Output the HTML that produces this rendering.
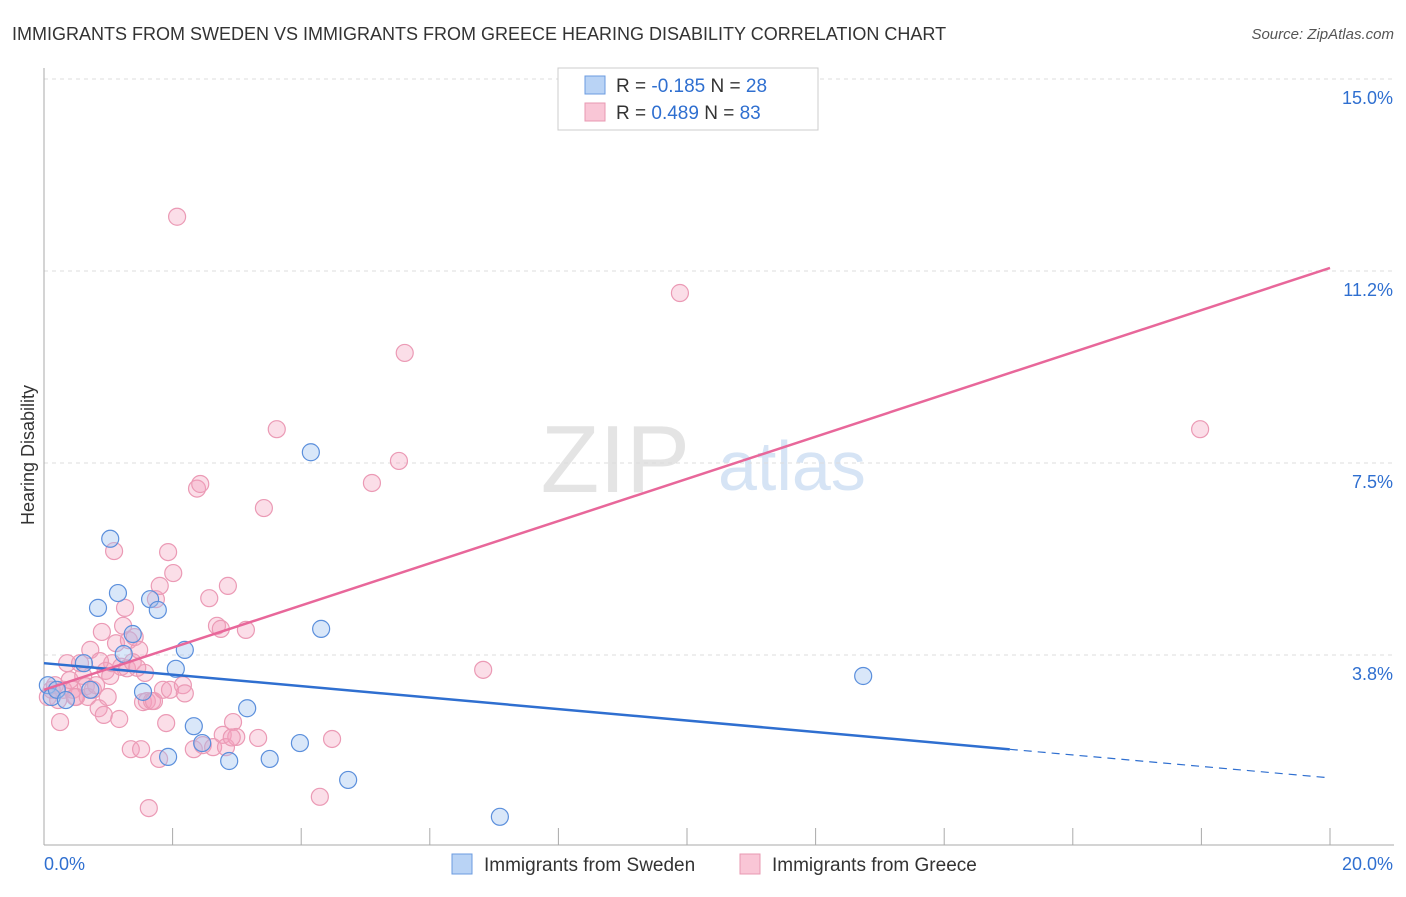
<!DOCTYPE html>
<html><head><meta charset="utf-8"><style>
body{margin:0;background:#fff;font-family:"Liberation Sans",sans-serif}
svg text{font-family:"Liberation Sans",sans-serif}
</style></head><body>
<svg id="c" width="1406" height="892">
<text x="12" y="40" font-size="18" fill="#333">IMMIGRANTS FROM SWEDEN VS IMMIGRANTS FROM GREECE HEARING DISABILITY CORRELATION CHART</text>
<text x="1394" y="39" font-size="15" fill="#555" font-style="italic" text-anchor="end">Source: ZipAtlas.com</text>
<text x="690" y="492" font-size="96" fill="#e4e4e4" text-anchor="end" font-family="Liberation Serif">ZIP</text>
<text x="718" y="490" font-size="70" fill="#d6e4f5">atlas</text>
<text x="34" y="455" font-size="18" fill="#333" text-anchor="middle" transform="rotate(-90 34 455)">Hearing Disability</text>
<g id="grid"></g><g id="pts"></g><g id="lines"></g>
<g>
<rect x="558" y="68" width="260" height="62" fill="#fff" stroke="#ccc"/>
<rect x="585" y="76" width="20" height="18" fill="#b9d3f5" stroke="#6b9be0"/>
<rect x="585" y="103" width="20" height="18" fill="#f9c6d6" stroke="#e898b2"/>
<text x="616" y="92" font-size="19" fill="#333">R = <tspan fill="#2f6fd0">-0.185</tspan>   N = <tspan fill="#2f6fd0">28</tspan></text>
<text x="616" y="119" font-size="19" fill="#333">R =  <tspan fill="#2f6fd0">0.489</tspan>   N = <tspan fill="#2f6fd0">83</tspan></text>
</g>
<g>
<rect x="452" y="854" width="20" height="20" fill="#b9d3f5" stroke="#6b9be0"/>
<text x="484" y="871" font-size="19" fill="#333">Immigrants from Sweden</text>
<rect x="740" y="854" width="20" height="20" fill="#f9c6d6" stroke="#e898b2"/>
<text x="772" y="871" font-size="19" fill="#333">Immigrants from Greece</text>
</g>
</svg>
<script>
const yTicks=[3.75,7.5,11.25,15];
const yTickLabels=["3.8%","7.5%","11.2%","15.0%"];
const xEndLabels=["0.0%","20.0%"];
const swedenX=[0.06,0.12,0.2,0.34,0.62,0.72,0.84,1.03,1.15,1.24,1.38,1.54,1.65,1.77,1.93,2.05,2.19,2.33,2.46,2.88,3.16,3.51,3.98,4.15,4.31,4.73,7.09,12.74];
const swedenY=[3.16,2.93,3.07,2.87,3.59,3.07,4.67,6.02,4.96,3.77,4.16,3.03,4.84,4.63,1.76,3.48,3.85,2.36,2.03,1.68,2.71,1.72,2.03,7.71,4.26,1.31,0.59,3.34];
const greeceX=[0.06,0.12,0.17,0.22,0.25,0.3,0.36,0.4,0.45,0.5,0.56,0.61,0.65,0.68,0.72,0.76,0.81,0.85,0.9,0.93,0.96,0.99,1.03,1.06,1.09,1.12,1.17,1.2,1.23,1.26,1.29,1.32,1.35,1.38,1.41,1.48,1.51,1.54,1.57,1.6,1.63,1.68,1.71,1.74,1.79,1.8,1.85,1.9,1.93,1.96,2.01,2.07,2.16,2.33,2.38,2.43,2.47,2.57,2.63,2.69,2.75,2.78,2.83,2.86,2.94,2.99,3.14,3.33,3.42,3.62,4.29,4.48,5.1,5.52,5.61,6.83,9.89,17.98,0.48,0.87,1.45,2.19,2.92];
const greeceY=[2.93,3.07,3.16,2.87,2.44,3.07,3.59,3.26,3.07,2.93,3.59,3.34,3.14,2.93,3.85,3.07,3.16,2.71,4.2,2.58,3.44,2.93,3.34,3.59,5.78,3.98,2.5,3.52,4.32,4.67,3.49,4.04,1.91,3.61,4.1,3.85,1.91,2.83,3.4,2.85,0.76,2.85,2.85,4.84,1.72,5.1,3.07,2.42,5.76,3.07,5.35,12.31,3.16,1.91,7.0,7.09,1.99,4.86,1.95,4.32,4.26,2.19,1.95,5.1,2.44,2.15,4.24,2.13,6.62,8.16,0.98,2.11,7.11,7.54,9.65,3.46,10.82,8.16,2.93,3.63,3.5,3.0,2.14];
const swedenFit=[3.59,1.35], greeceFit=[3.07,11.31], swedenSolidEnd=15.02;
const NS="http://www.w3.org/2000/svg";
const X=v=>44+v*64.3, Y=v=>847-v*51.2;
function mk(t,a,p){const e=document.createElementNS(NS,t);for(const k in a)e.setAttribute(k,a[k]);p.appendChild(e);return e;}
const grid=document.getElementById('grid');
yTicks.forEach((t,i)=>{
 const l=mk('line',{x1:44,x2:1394,y1:Y(t),y2:Y(t),stroke:'#ddd','stroke-dasharray':'4,4'},grid);
 
 
 const tx=mk('text',{x:1393,y:Y(t)+25,'font-size':18,fill:'#2f6fd0','text-anchor':'end'},grid);tx.textContent=yTickLabels[i];
 
 
});
const ax=mk('line',{x1:44,x2:44,y1:68,y2:845,stroke:'#aaa'},grid);


const bx=mk('line',{x1:44,x2:1394,y1:845,y2:845,stroke:'#aaa'},grid);


for(let i=1;i<=10;i++){const t=mk('line',{x1:X(i*2),x2:X(i*2),y1:828,y2:845,stroke:'#aaa'},grid);
 
 }
[[0,'start',44],[1,'end',1393]].forEach(([i,a,x])=>{const t=mk('text',{x:x,y:870,'font-size':18,fill:'#2f6fd0','text-anchor':a},grid);t.textContent=xEndLabels[i];
 
 });
const pts=document.getElementById('pts');
greeceX.forEach((x,i)=>{const c=mk('circle',{cx:X(x),cy:Y(greeceY[i]),r:8.5,fill:'rgba(244,160,188,0.35)',stroke:'#eb9ab5','stroke-width':1.2},pts);
 
 });
swedenX.forEach((x,i)=>{const c=mk('circle',{cx:X(x),cy:Y(swedenY[i]),r:8.5,fill:'rgba(160,195,240,0.4)',stroke:'#5b8fdc','stroke-width':1.2},pts);
 
 });
const lines=document.getElementById('lines');
const f=(fit,x)=>fit[0]+(fit[1]-fit[0])*x/20;
let l1=mk('line',{x1:X(0),y1:Y(f(swedenFit,0)),x2:X(swedenSolidEnd),y2:Y(f(swedenFit,swedenSolidEnd)),stroke:'#2f6fd0','stroke-width':2.5},lines);


let l2=mk('line',{x1:X(swedenSolidEnd),y1:Y(f(swedenFit,swedenSolidEnd)),x2:X(20),y2:Y(f(swedenFit,20)),stroke:'#2f6fd0','stroke-width':1.2,'stroke-dasharray':'8,6'},lines);


let l3=mk('line',{x1:X(0),y1:Y(f(greeceFit,0)),x2:X(20),y2:Y(f(greeceFit,20)),stroke:'#e8679a','stroke-width':2.5},lines);


</script>
</body></html>
